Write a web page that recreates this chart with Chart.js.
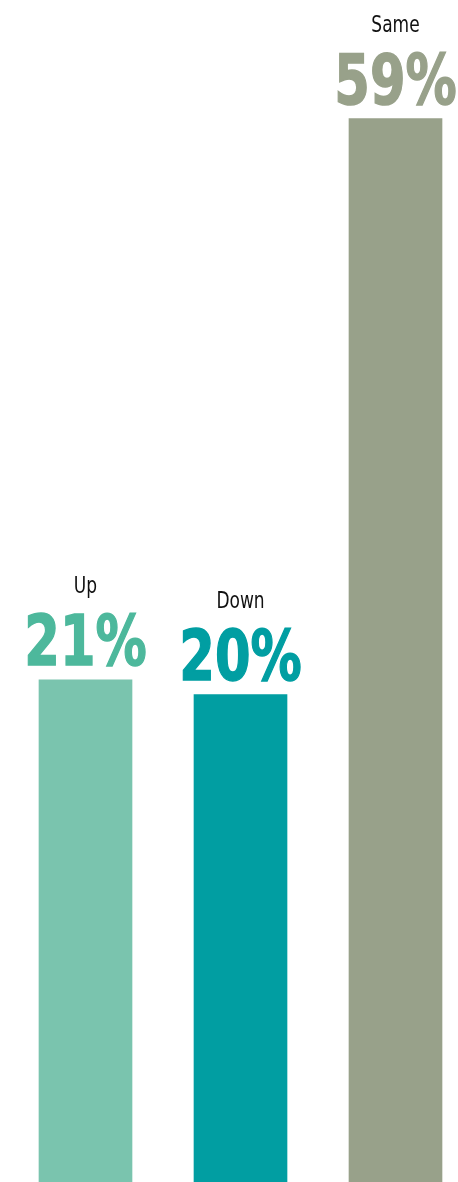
<!DOCTYPE html>
<html>
<head>
<meta charset="utf-8">
<script src="https://cdn.jsdelivr.net/npm/chart.js@4"></script>
<style>
  html, body { margin: 0; padding: 0; background: #fff; }
  .chart-area { width: 458px; height: 1182px; position: relative; }
</style>
</head>
<body>
<div class="chart-area"><canvas id="myChart"></canvas></div>
<script>
const categories = ["Up", "Down", "Same"];
const shares = [21, 20, 59];
const barColors = ["#7AC4AE", "#019EA2", "#98A18A"];
const valueColors = ["#4DB89C", "#019EA2", "#98A18A"];

// value axis starts below zero so the short bars keep their height
const axisMin = -13;
const axisMax = 59;

// narrow text: squeeze horizontally around the anchor point
function drawNarrow(ctx, text, x, y, squeeze, stroke) {
  ctx.save();
  ctx.translate(x, y);
  ctx.scale(squeeze, 1);
  ctx.fillText(text, 0, 0);
  if (stroke) ctx.strokeText(text, 0, 0);
  ctx.restore();
}

// name + big percentage above every bar
const barLabels = {
  id: "barLabels",
  afterDatasetsDraw(chart) {
    const ctx = chart.ctx;
    const meta = chart.getDatasetMeta(0);
    ctx.save();
    ctx.textAlign = "center";
    ctx.textBaseline = "alphabetic";
    meta.data.forEach((bar, i) => {
      ctx.fillStyle = valueColors[i];
      ctx.strokeStyle = valueColors[i];
      ctx.lineWidth = 1.5;
      ctx.font = 'bold 70px "DejaVu Sans", sans-serif';
      drawNarrow(ctx, shares[i] + "%", bar.x, bar.y - 15, 0.73, true);

      ctx.fillStyle = "#111";
      ctx.font = '23px "DejaVu Sans", sans-serif';
      drawNarrow(ctx, categories[i], bar.x, bar.y - 86.5, 0.74, false);
    });
    ctx.restore();
  }
};

new Chart(document.getElementById("myChart").getContext("2d"), {
  type: "bar",
  data: {
    labels: categories,
    datasets: [
      {
        data: shares,
        backgroundColor: barColors,
        barThickness: 93,
        base: axisMin,
        clip: false
      }
    ]
  },
  options: {
    responsive: true,
    maintainAspectRatio: false,
    animation: false,
    layout: { padding: { left: 85.5, right: 62.5, top: 118.5, bottom: 0 } },
    plugins: {
      legend: { display: false },
      tooltip: { enabled: false }
    },
    scales: {
      x: { display: false, offset: false },
      y: { display: false, min: axisMin, max: axisMax }
    }
  },
  plugins: [barLabels]
});
</script>
</body>
</html>
